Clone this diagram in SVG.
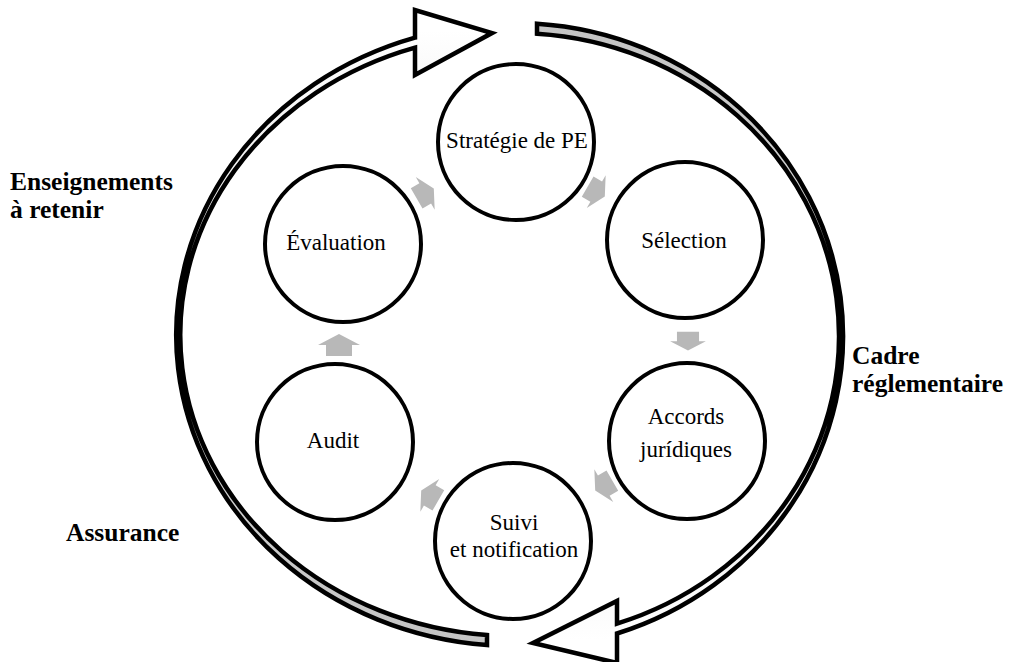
<svg xmlns="http://www.w3.org/2000/svg" width="1014" height="662" viewBox="0 0 1014 662">
<style>
.node{fill:#fff;stroke:#000;stroke-width:4}
.lbl{font-family:"Liberation Serif","Times New Roman",serif;font-size:23px;fill:#000;text-anchor:middle}
.side{font-family:"Liberation Serif","Times New Roman",serif;font-size:25.5px;font-weight:bold;fill:#000}
.band{stroke:#000;stroke-width:4.5;stroke-linejoin:miter}
.small{fill:#b8b8b8}
</style>
<defs>
<linearGradient id="gL" gradientUnits="userSpaceOnUse" x1="0" y1="645" x2="0" y2="30">
<stop offset="0" stop-color="#c4c4c4"/><stop offset="0.35" stop-color="#d0d0d0"/><stop offset="1" stop-color="#ffffff"/>
</linearGradient>
<linearGradient id="gR" gradientUnits="userSpaceOnUse" x1="0" y1="24" x2="0" y2="640">
<stop offset="0" stop-color="#c4c4c4"/><stop offset="0.35" stop-color="#d0d0d0"/><stop offset="1" stop-color="#ffffff"/>
</linearGradient>
<path id="sa" d="M -12,-13 L -1,-13 L -1,-21 L 10,0 L -1,21 L -1,13 L -12,13 Z"/>
</defs>
<rect width="1014" height="662" fill="#fff"/>
<g id="big-arrows">
<path class="band" fill="url(#gL)" d="M 487,645 A 338 311 0 0 1 415,37.7 L 415,10 L 492,33 L 415,75 L 415,47.6 A 334 301 0 0 0 487,635 Z"/>
<path class="band" fill="url(#gR)" d="M 537,23.7 A 328 313 0 0 1 617,633.5 L 617,663 L 533,643 L 617,601 L 617,623.6 A 324 303 0 0 0 537,33.7 Z"/>
</g>
<g id="connectors">
<use href="#sa" class="small" transform="translate(426,193) rotate(-30) scale(0.9)"/>
<use href="#sa" class="small" transform="translate(597,192) rotate(30) scale(0.9)"/>
<use href="#sa" class="small" transform="translate(688,342) rotate(90) scale(0.85)"/>
<use href="#sa" class="small" transform="translate(603,486) rotate(150) scale(0.9)"/>
<use href="#sa" class="small" transform="translate(429,495) rotate(210) scale(0.9)"/>
<use href="#sa" class="small" transform="translate(339,344) rotate(270)"/>
</g>
<g id="n-strategie"><circle class="node" cx="516" cy="142" r="78"/><text class="lbl" x="517" y="148">Stratégie de PE</text></g>
<g id="n-selection"><circle class="node" cx="685" cy="240" r="78"/><text class="lbl" x="684" y="248">Sélection</text></g>
<g id="n-accords"><circle class="node" cx="687" cy="441" r="78"/><text class="lbl" x="686" y="424">Accords</text><text class="lbl" x="686" y="457">jurídiques</text></g>
<g id="n-suivi"><circle class="node" cx="513" cy="541" r="78"/><text class="lbl" x="514" y="530">Suivi</text><text class="lbl" x="514" y="557">et notification</text></g>
<g id="n-audit"><circle class="node" cx="335" cy="442" r="78"/><text class="lbl" x="333" y="448">Audit</text></g>
<g id="n-evaluation"><circle class="node" cx="343" cy="244" r="78"/><text class="lbl" x="336" y="250">Évaluation</text></g>
<g id="labels">
<text class="side" x="10" y="190">Enseignements</text>
<text class="side" x="10" y="218">à retenir</text>
<text class="side" x="852" y="364">Cadre</text>
<text class="side" x="852" y="392">réglementaire</text>
<text class="side" x="66" y="541">Assurance</text>
</g>
</svg>
